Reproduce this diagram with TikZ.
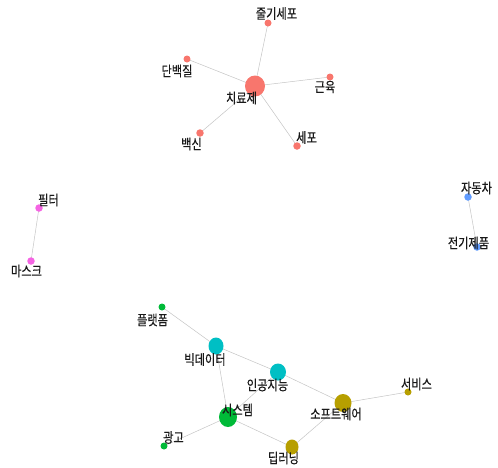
\documentclass[tikz,border=0pt]{standalone}
\usepackage{fontspec}
\usetikzlibrary{shapes.geometric}
\setmainfont{Noto Sans CJK KR}[FakeStretch=0.8,FakeBold=0.3]
\definecolor{cA}{HTML}{F8766D}
\definecolor{cB}{HTML}{B79F00}
\definecolor{cC}{HTML}{00BA38}
\definecolor{cD}{HTML}{00BFC4}
\definecolor{cE}{HTML}{619CFF}
\definecolor{cF}{HTML}{F564E3}
\definecolor{edgec}{HTML}{C4C4C4}
\begin{document}
\begin{tikzpicture}[x=1pt,y=-1pt,
  vtx/.style={circle,inner sep=0pt,draw=none},
  lbl/.style={inner sep=0pt,font=\fontsize{14}{14}\selectfont,text=black!90},
  edge/.style={draw=edgec,line width=0.5pt}]
\useasboundingbox (0,0) rectangle (498,467);
% vertex positions
\coordinate (chl) at (255,86);
\coordinate (jul) at (268,23);
\coordinate (dan) at (187,59);
\coordinate (geu) at (330,77);
\coordinate (bae) at (200,133);
\coordinate (sep) at (297,146);
\coordinate (pil) at (39,208);
\coordinate (mas) at (31,261);
\coordinate (jad) at (468,197);
\coordinate (jeo) at (477,247);
\coordinate (pla) at (162,307);
\coordinate (big) at (216,346);
\coordinate (ing) at (278,372);
\coordinate (sys) at (228,417);
\coordinate (gwa) at (164,446);
\coordinate (dee) at (292,447);
\coordinate (sof) at (343,403);
\coordinate (ser) at (408,392);
% edges
\draw[edge] (chl) -- (jul);
\draw[edge] (chl) -- (dan);
\draw[edge] (chl) -- (geu);
\draw[edge] (chl) -- (bae);
\draw[edge] (chl) -- (sep);
\draw[edge] (pil) -- (mas);
\draw[edge] (jad) -- (jeo);
\draw[edge] (pla) -- (big);
\draw[edge] (big) -- (ing);
\draw[edge] (big) -- (sys);
\draw[edge] (ing) -- (sys);
\draw[edge] (ing) -- (sof);
\draw[edge] (sys) -- (gwa);
\draw[edge] (sys) -- (dee);
\draw[edge] (dee) -- (sof);
\draw[edge] (sof) -- (ser);
% vertices
\node[vtx,ellipse,fill=cA,minimum width=20pt,minimum height=21pt] (nchl) at (chl) {};
\node[vtx,fill=cA,minimum size=7pt] (njul) at (jul) {};
\node[vtx,fill=cA,minimum size=7pt] (ndan) at (dan) {};
\node[vtx,fill=cA,minimum size=7pt] (ngeu) at (geu) {};
\node[vtx,fill=cA,minimum size=7.5pt] (nbae) at (bae) {};
\node[vtx,fill=cA,minimum size=7.5pt] (nsep) at (sep) {};
\node[vtx,fill=cF,minimum size=7.5pt] (npil) at (pil) {};
\node[vtx,fill=cF,minimum size=7.5pt] (nmas) at (mas) {};
\node[vtx,fill=cE,minimum size=7.5pt] (njad) at (jad) {};
\node[vtx,fill=cE,minimum size=7.5pt] (njeo) at (jeo) {};
\node[vtx,fill=cC,minimum size=7pt] (npla) at (pla) {};
\node[vtx,ellipse,fill=cD,minimum width=15pt,minimum height=17pt] (nbig) at (big) {};
\node[vtx,ellipse,fill=cD,minimum width=16pt,minimum height=17pt] (ning) at (ing) {};
\node[vtx,ellipse,fill=cC,minimum width=18pt,minimum height=20pt] (nsys) at (sys) {};
\node[vtx,fill=cC,minimum size=7pt] (ngwa) at (gwa) {};
\node[vtx,ellipse,fill=cB,minimum width=13pt,minimum height=15pt] (ndee) at (dee) {};
\node[vtx,ellipse,fill=cB,minimum width=17pt,minimum height=18pt] (nsof) at (sof) {};
\node[vtx,fill=cB,minimum size=7pt] (nser) at (ser) {};
% labels
\node[lbl] (l1) at (241.5,98) {치료제};
\node[lbl] (l2) at (276.5,13.5) {줄기세포};
\node[lbl] (l3) at (177,71) {단백질};
\node[lbl] (l4) at (325,87) {근육};
\node[lbl] (l5) at (191.5,144) {백신};
\node[lbl] (l6) at (306.5,137.5) {세포};
\node[lbl] (l7) at (48.5,200) {필터};
\node[lbl] (l8) at (26.5,271) {마스크};
\node[lbl] (l9) at (476.5,188) {자동차};
\node[lbl] (l10) at (468.5,243) {전기제품};
\node[lbl] (l11) at (152.5,320) {플랫폼};
\node[lbl] (l12) at (205,359.5) {빅데이터};
\node[lbl] (l13) at (267.5,385) {인공지능};
\node[lbl] (l14) at (237.5,410) {시스템};
\node[lbl] (l15) at (173.5,437.5) {광고};
\node[lbl] (l16) at (283.5,458) {딥러닝};
\node[lbl] (l17) at (336,414) {소프트웨어};
\node[lbl] (l18) at (416.5,384) {서비스};
\end{tikzpicture}
\end{document}
